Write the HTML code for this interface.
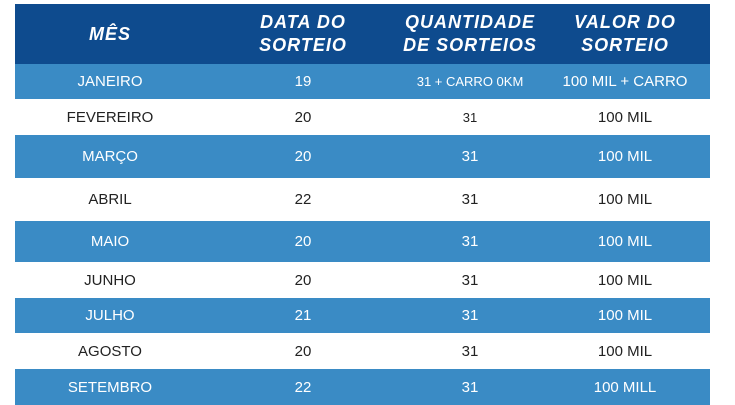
<!DOCTYPE html><html><head><style>
body{margin:0;width:735px;height:400px;background:#fff;overflow:hidden;font-family:"Liberation Sans",sans-serif}
.r{position:absolute;left:15px;width:695px;display:flex;align-items:center}
.r div{position:absolute;transform:translateX(-50%);white-space:nowrap;text-align:center}
.h{background:#0e4b8e;color:#fff;font-weight:bold;font-style:italic;font-size:18px;line-height:23px;letter-spacing:1px}
.b{background:#3a8bc5;color:#fff;font-size:15px}
.w{background:#fff;color:#222;font-size:15px}
</style></head><body>
<div class="r h" style="top:4px;height:60px"><div style="left:95px">MÊS</div><div style="left:288px">DATA DO<br>SORTEIO</div><div style="left:455px">QUANTIDADE<br>DE SORTEIOS</div><div style="left:610px">VALOR DO<br>SORTEIO</div></div>
<div class="r b" style="top:64px;height:35px"><div style="left:95px">JANEIRO</div><div style="left:288px">19</div><div style="left:455px;font-size:13px">31 + CARRO 0KM</div><div style="left:610px">100 MIL + CARRO</div></div>
<div class="r w" style="top:99px;height:36px"><div style="left:95px">FEVEREIRO</div><div style="left:288px">20</div><div style="left:455px;font-size:13px">31</div><div style="left:610px">100 MIL</div></div>
<div class="r b" style="top:135px;height:43px"><div style="left:95px">MARÇO</div><div style="left:288px">20</div><div style="left:455px">31</div><div style="left:610px">100 MIL</div></div>
<div class="r w" style="top:178px;height:43px"><div style="left:95px">ABRIL</div><div style="left:288px">22</div><div style="left:455px">31</div><div style="left:610px">100 MIL</div></div>
<div class="r b" style="top:221px;height:41px"><div style="left:95px">MAIO</div><div style="left:288px">20</div><div style="left:455px">31</div><div style="left:610px">100 MIL</div></div>
<div class="r w" style="top:262px;height:36px"><div style="left:95px">JUNHO</div><div style="left:288px">20</div><div style="left:455px">31</div><div style="left:610px">100 MIL</div></div>
<div class="r b" style="top:298px;height:35px"><div style="left:95px">JULHO</div><div style="left:288px">21</div><div style="left:455px">31</div><div style="left:610px">100 MIL</div></div>
<div class="r w" style="top:333px;height:36px"><div style="left:95px">AGOSTO</div><div style="left:288px">20</div><div style="left:455px">31</div><div style="left:610px">100 MIL</div></div>
<div class="r b" style="top:369px;height:36px"><div style="left:95px">SETEMBRO</div><div style="left:288px">22</div><div style="left:455px">31</div><div style="left:610px">100 MILL</div></div>
</body></html>
